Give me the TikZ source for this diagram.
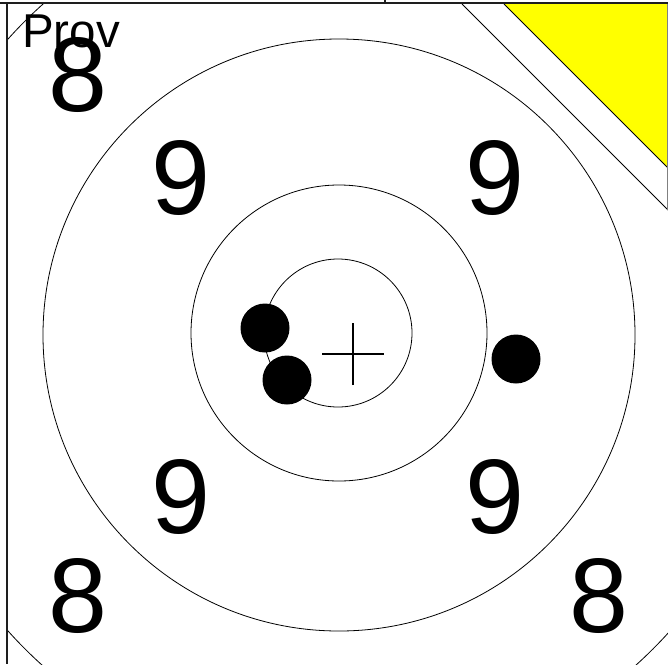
\documentclass[tikz,border=0pt]{standalone}
\usepackage{fontspec}
\setmainfont{Liberation Sans}
\definecolor{cardyellow}{RGB}{255,255,0}
\definecolor{edgegray}{RGB}{30,30,30}
\begin{document}
\begin{tikzpicture}[x=1pt,y=-1pt,
  ring/.style={draw=black,line width=0.8pt},
  shot/.style={fill=black},
  score/.style={inner sep=0pt,anchor=base,font=\fontsize{106}{106}\selectfont},
  border/.style={draw=edgegray,line width=2.2pt}]
\useasboundingbox (0,0) rectangle (668,664);
% big outer ring, clipped to the card
\begin{scope}
  \clip (7,3) rectangle (668,664);
  \draw[ring] (339,335) circle (444);
\end{scope}
% rings
\draw[ring] (339,335) circle (296);
\draw[ring] (339,333) circle (148);
\draw[ring] (338,333) circle (74);
% fold line and yellow corner
\draw[ring] (462,4) -- (668,210);
\fill[cardyellow] (504,4) -- (668,4) -- (668,168) -- cycle;
\draw[ring] (504,4) -- (668,168);
\draw[draw=gray,line width=0.8pt] (667.5,4) -- (667.5,210);
% borders
\draw[border] (0,3) -- (668,3);
\draw[border] (7,3) -- (7,664);
\draw[border,line width=1.2pt] (385,0) -- (385,3);
% crosshair
\coordinate (aim) at (353,354);
\draw[line width=1.6pt] ([xshift=-31pt]aim) -- ([xshift=31pt]aim);
\draw[line width=1.6pt] ([yshift=-31pt]aim) -- ([yshift=31pt]aim);
% shots
\fill[shot] (265,328) circle (24.5);
\fill[shot] (287,380) circle (24.5);
\fill[shot] (516,359) circle (24.5);
% score numbers
\node[score] (s8a) at (78,111) {8};
\node[score] (s9a) at (181,214) {9};
\node[score] (s9b) at (495,214) {9};
\node[score] (s9c) at (181,533) {9};
\node[score] (s9d) at (495,533) {9};
\node[score] (s8b) at (78,632) {8};
\node[score] (s8c) at (599,632) {8};
% label
\node[inner sep=0pt,anchor=base west,font=\fontsize{47.5}{47.5}\selectfont] (prov) at (22,47) {Prov};
\end{tikzpicture}
\end{document}
